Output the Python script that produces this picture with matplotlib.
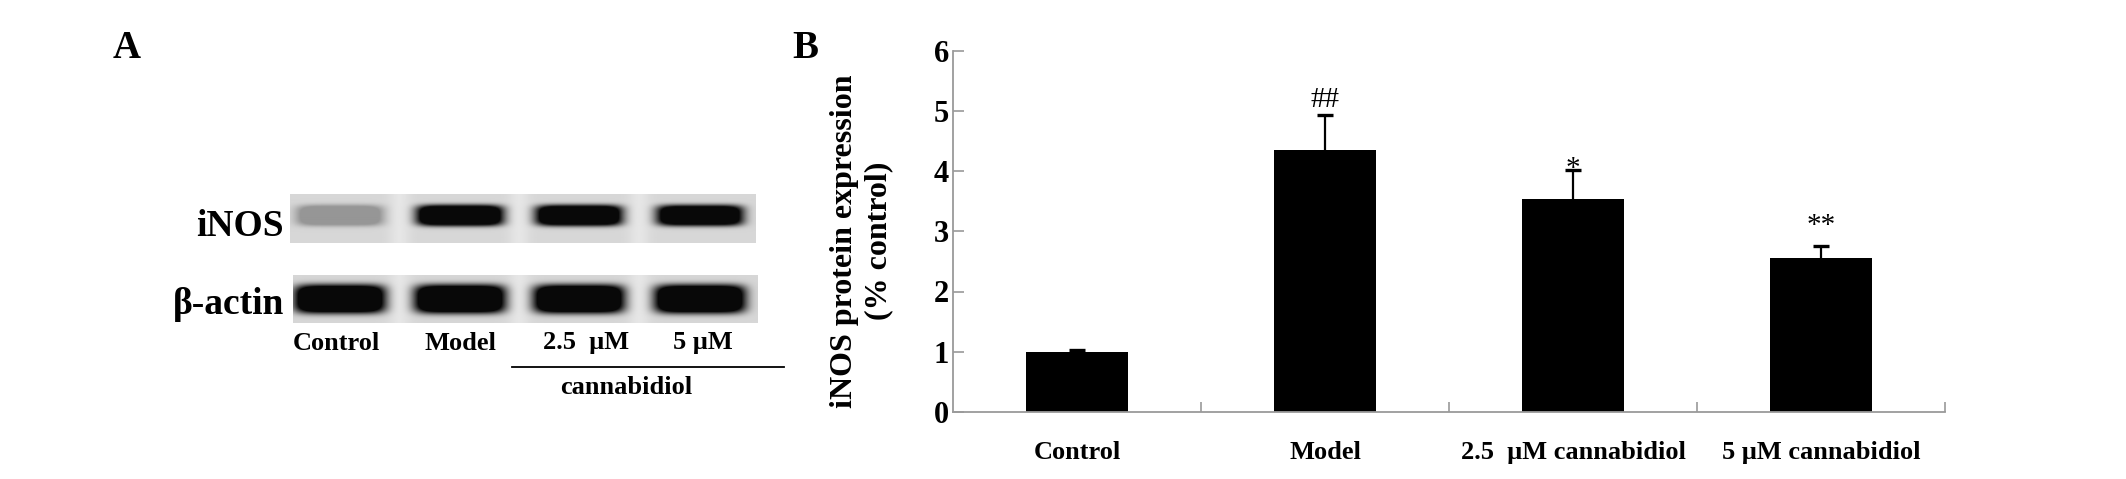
import numpy as np
import matplotlib
matplotlib.use("Agg")
import matplotlib.pyplot as plt
from matplotlib.ticker import FixedLocator, NullFormatter

plt.rcParams['font.family'] = ['Liberation Serif', 'DejaVu Serif']

# ---------------- data ----------------
categories = ["Control", "Model", "2.5  \u03bcM cannabidiol", "5 \u03bcM cannabidiol"]
means = [1.00, 4.35, 3.54, 2.56]
errors = [0.03, 0.58, 0.47, 0.19]
marks = ["", "##", "*", "**"]
mark_gap = [0.0, 0.14, -0.10, 0.22]   # offset of the mark baseline above the error cap
yticks = [0, 1, 2, 3, 4, 5, 6]

blot_lanes = ["Control", "Model", "2.5  \u03bcM", "5 \u03bcM"]
inos_band = [0.30, 1.0, 0.97, 0.93]     # relative band darkness
actin_band = [1.0, 1.0, 1.0, 1.0]
blot_rows = ["iNOS", "\u03b2-actin"]

# ---------------- figure ----------------
W, H = 2126, 479
fig = plt.figure(figsize=(W / 100, H / 100), dpi=100)
ov = fig.add_axes([0, 0, 1, 1])
ov.axis('off')


def strip(x0, x1, y0, y1, darkness, lane_cx, band_w, band_h, band_dy):
    nx, ny = int(x1 - x0), int(y1 - y0)
    xs = np.arange(nx) + x0 + 0.5
    ys = np.arange(ny) + y0 + 0.5
    X, Y = np.meshgrid(xs, ys)
    bg = np.full_like(X, 0.84)
    for i in range(len(lane_cx) - 1):
        gx = (lane_cx[i] + lane_cx[i + 1]) / 2
        bg += 0.06 * np.exp(-((X - gx) / 11.0) ** 2)
    dark = np.zeros_like(X)
    cy = (y0 + y1) / 2 + band_dy
    for d, cx in zip(darkness, lane_cx):
        prof = np.exp(-np.abs((X - cx) / (band_w / 2)) ** 6) * np.exp(-np.abs((Y - cy) / (band_h / 2)) ** 4)
        cap = 0.96 if d >= 0.6 else d
        dark = np.maximum(dark, np.clip(1.8 * d * prof, 0, cap))
    img = bg * (1 - dark)
    ov.imshow(img, extent=(x0, x1, y1, y0), cmap='gray', vmin=0, vmax=1,
              aspect='auto', interpolation='bilinear', zorder=1)


lane_cx = [340, 460, 579, 700]
strip(290, 756, 195, 243, inos_band, lane_cx, 86, 20, -3)
strip(293, 758, 275, 323, actin_band, lane_cx, 90, 28, 0)

ov.set_xlim(0, W)
ov.set_ylim(H, 0)

bold = dict(fontweight='bold')
ov.text(284, 226, blot_rows[0], ha='right', va='center', fontsize=27, **bold)
ov.text(284, 304, blot_rows[1], ha='right', va='center', fontsize=27, **bold)
for cx, lab in zip([336, 460, 586, 703], blot_lanes):
    ov.text(cx, 343, lab, ha='center', va='center', fontsize=19, **bold)
ov.plot([512, 784], [367, 367], color='black', lw=1.3)
ov.text(626, 388, "cannabidiol", ha='center', va='center', fontsize=19, **bold)

ov.text(113, 58, "A", ha='left', va='baseline', fontsize=28, **bold)
ov.text(792, 58, "B", ha='left', va='baseline', fontsize=28, **bold)

# ---------------- panel B ----------------
ax_l, ax_r, ax_b, ax_t = 953, 1945, 412, 50.5
ax = fig.add_axes([ax_l / W, (H - ax_b) / H, (ax_r - ax_l) / W, (ax_b - ax_t) / H])
x = np.arange(len(categories))
means_a = np.array(means)
errs_a = np.array(errors)
ax.bar(x, means_a, width=0.415, color='black', zorder=2)
ax.vlines(x, means_a, means_a + errs_a, color='black', lw=1.6, zorder=1)
ax.hlines(means_a + errs_a, x - 0.033, x + 0.033, color='black', lw=2.4, zorder=1)
for xi, m, e, s, g in zip(x, means_a, errs_a, marks, mark_gap):
    if s:
        ax.text(xi, m + e + g, s, ha='center', va='baseline', fontsize=21)

ax.set_xlim(-0.5, len(categories) - 0.5)
ax.set_ylim(0, 6)
ax.set_yticks(yticks)
ax.set_yticklabels([str(t) for t in yticks], fontsize=22, fontweight='bold')
ax.tick_params(axis='y', direction='in', length=8, width=1.2, color='#9a9a9a', pad=3)

ax.xaxis.set_major_locator(FixedLocator([0.5, 1.5, 2.5, 3.5]))
ax.xaxis.set_major_formatter(NullFormatter())
ax.xaxis.set_minor_locator(FixedLocator(list(x)))
ax.set_xticklabels(categories, minor=True, fontsize=19, fontweight='bold')
ax.tick_params(axis='x', which='major', direction='in', length=7, width=1.2, color='#9a9a9a')
ax.tick_params(axis='x', which='minor', length=0, pad=21)

for sp in ['top', 'right']:
    ax.spines[sp].set_visible(False)
for sp in ['left', 'bottom']:
    ax.spines[sp].set_color('#9a9a9a')
    ax.spines[sp].set_linewidth(1.3)

ax.set_ylabel("iNOS protein expression\n(% control)", fontsize=23, fontweight='bold',
              linespacing=1.25, va='center')
ax.yaxis.set_label_coords((861.5 - ax_l) / (ax_r - ax_l), (ax_b - 241) / (ax_b - ax_t))

fig.savefig("out.png", dpi=100, facecolor='white')
